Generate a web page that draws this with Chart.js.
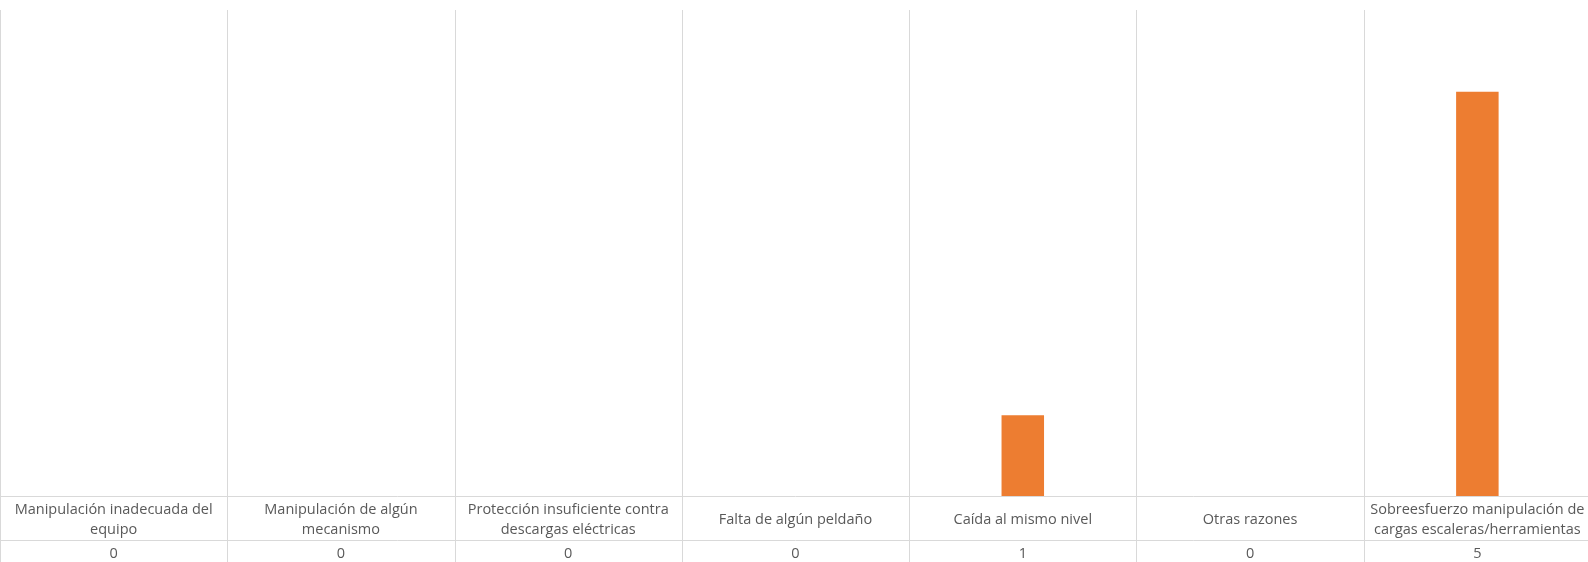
<!DOCTYPE html>
<html>
<head>
<meta charset="utf-8">
<title>Causas</title>
<script src="https://cdn.jsdelivr.net/npm/chart.js@4/dist/chart.umd.min.js"></script>
<style>
  html, body { margin: 0; padding: 0; background: #fff; overflow: hidden; }
  #chart { display: block; }
</style>
</head>
<body>
<canvas id="chart" width="1591" height="562"></canvas>
<script>
const categories = [
  ["Manipulación inadecuada del", "equipo"],
  ["Manipulación de algún", "mecanismo"],
  ["Protección insuficiente contra", "descargas eléctricas"],
  ["Falta de algún peldaño"],
  ["Caída al mismo nivel"],
  ["Otras razones"],
  ["Sobreesfuerzo manipulación de", "cargas escaleras/herramientas"],
];
const values = [0, 0, 0, 0, 1, 0, 5];

const gridColor = "#d9d9d9";
const textColor = "#595959";
const font = "14.5px 'Open Sans', sans-serif";
const labelRow = 44;

// data table under the plot, drawn from the x scale positions
const dataTable = {
  id: "dataTable",
  beforeDatasetsDraw(chart) {
    const { ctx, chartArea, scales } = chart;
    const x = scales.x;
    const half = (x.getPixelForValue(1) - x.getPixelForValue(0)) / 2;
    ctx.save();
    ctx.strokeStyle = gridColor;
    ctx.lineWidth = 1;
    ctx.beginPath();
    for (let i = 0; i < categories.length; i++) {
      const px = Math.round(x.getPixelForValue(i) - half) + 0.5;
      ctx.moveTo(px, 10);
      ctx.lineTo(px, chart.height);
    }
    const y1 = Math.round(chartArea.bottom) + 0.5;
    const y2 = y1 + labelRow;
    ctx.moveTo(0, y1);
    ctx.lineTo(chart.width, y1);
    ctx.moveTo(0, y2);
    ctx.lineTo(chart.width, y2);
    ctx.stroke();
    ctx.restore();
  },
  afterDraw(chart) {
    const { ctx, chartArea, scales } = chart;
    const x = scales.x;
    const top = chartArea.bottom;
    ctx.save();
    ctx.fillStyle = textColor;
    ctx.font = font;
    ctx.textAlign = "center";
    ctx.textBaseline = "middle";
    const lh = 19.5;
    categories.forEach((lines, i) => {
      const cx = x.getPixelForValue(i);
      const start = top + labelRow / 2 + 2 - (lines.length - 1) * lh / 2;
      lines.forEach((t, j) => ctx.fillText(t, cx, start + j * lh));
      ctx.fillText(String(values[i]), cx, top + labelRow + (chart.height - top - labelRow) / 2 + 3);
    });
    ctx.restore();
  }
};

new Chart(document.getElementById("chart"), {
  type: "bar",
  data: {
    labels: categories,
    datasets: [{
      data: values,
      backgroundColor: "#ED7D31",
      barPercentage: 0.187,
      categoryPercentage: 1,
    }],
  },
  options: {
    responsive: false,
    animation: false,
    layout: { padding: { top: 11, bottom: 66, left: 0, right: 0 } },
    plugins: { legend: { display: false }, tooltip: { enabled: false } },
    scales: {
      x: {
        display: false,
      },
      y: {
        display: false,
        min: 0,
        max: 6,
      },
    },
  },
  plugins: [dataTable],
});
</script>
</body>
</html>
